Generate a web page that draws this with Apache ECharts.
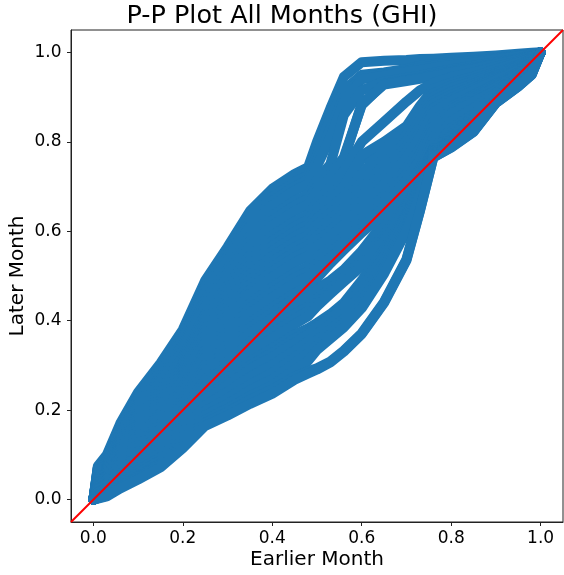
<!DOCTYPE html>
<html>
<head>
<meta charset="utf-8">
<script src="https://cdn.jsdelivr.net/npm/echarts@6/dist/echarts.min.js"></script>
<style>
  html, body { margin: 0; padding: 0; background: #ffffff; }
  #chart { width: 564px; height: 575px; }
</style>
</head>
<body>
<div id="chart"></div>
<script>
// Shared x positions (earlier-month cumulative probability) for every P-P curve
const xKnots = [0, 0.01, 0.03, 0.06, 0.1, 0.15, 0.2, 0.25, 0.3, 0.35, 0.4, 0.45, 0.48, 0.5, 0.53, 0.56, 0.6, 0.65, 0.7, 0.73, 0.76, 0.8, 0.85, 0.9, 0.95, 0.98, 1.0];

// Later-month cumulative probability for each month pair, top of the band to bottom
const curve01 = [0, 0.075, 0.10, 0.17, 0.24, 0.305, 0.38, 0.49, 0.565, 0.645, 0.695, 0.728, 0.743, 0.80, 0.875, 0.945, 0.978, 0.981, 0.983, 0.985, 0.986, 0.988, 0.99, 0.993, 0.997, 0.999, 1];
const curve02 = [0, 0.072, 0.096, 0.164, 0.232, 0.296, 0.369, 0.477, 0.550, 0.628, 0.677, 0.710, 0.725, 0.77, 0.855, 0.915, 0.95, 0.955, 0.963, 0.97, 0.974, 0.978, 0.982, 0.987, 0.993, 0.997, 1];
const curve03 = [0, 0.071, 0.095, 0.161, 0.228, 0.291, 0.364, 0.47, 0.543, 0.62, 0.668, 0.70, 0.716, 0.758, 0.83, 0.9, 0.945, 0.951, 0.959, 0.965, 0.97, 0.975, 0.98, 0.986, 0.992, 0.996, 1];
const curve04 = [0, 0.069, 0.093, 0.158, 0.224, 0.286, 0.359, 0.464, 0.535, 0.611, 0.658, 0.691, 0.706, 0.745, 0.81, 0.89, 0.94, 0.948, 0.956, 0.961, 0.966, 0.971, 0.977, 0.984, 0.991, 0.996, 1];
const curve05 = [0, 0.066, 0.088, 0.151, 0.215, 0.275, 0.346, 0.448, 0.516, 0.589, 0.635, 0.668, 0.683, 0.715, 0.75, 0.86, 0.915, 0.935, 0.943, 0.948, 0.954, 0.962, 0.97, 0.978, 0.987, 0.993, 1];
const curve06 = [0, 0.064, 0.086, 0.148, 0.21, 0.269, 0.339, 0.44, 0.507, 0.578, 0.624, 0.657, 0.672, 0.7, 0.728, 0.765, 0.882, 0.93, 0.938, 0.943, 0.95, 0.958, 0.966, 0.975, 0.985, 0.992, 1];
const curve07 = [0, 0.062, 0.083, 0.144, 0.205, 0.263, 0.332, 0.432, 0.497, 0.567, 0.613, 0.645, 0.660, 0.69, 0.72, 0.76, 0.885, 0.928, 0.936, 0.941, 0.947, 0.955, 0.963, 0.973, 0.984, 0.991, 1];
const curve08 = [0, 0.058, 0.079, 0.137, 0.195, 0.251, 0.319, 0.415, 0.478, 0.546, 0.590, 0.622, 0.637, 0.665, 0.70, 0.735, 0.80, 0.845, 0.89, 0.915, 0.932, 0.945, 0.955, 0.968, 0.98, 0.99, 1];
const curve09 = [0, 0.057, 0.077, 0.133, 0.19, 0.246, 0.312, 0.407, 0.468, 0.535, 0.578, 0.61, 0.625, 0.652, 0.68, 0.71, 0.76, 0.79, 0.828, 0.87, 0.905, 0.925, 0.943, 0.96, 0.976, 0.988, 1];
const curve10 = [0, 0.055, 0.074, 0.129, 0.185, 0.240, 0.306, 0.399, 0.459, 0.524, 0.567, 0.599, 0.614, 0.64, 0.67, 0.70, 0.77, 0.80, 0.835, 0.88, 0.918, 0.932, 0.946, 0.962, 0.977, 0.988, 1];
const curve11 = [0, 0.053, 0.071, 0.125, 0.18, 0.234, 0.30, 0.391, 0.45, 0.513, 0.556, 0.588, 0.603, 0.628, 0.652, 0.678, 0.728, 0.782, 0.83, 0.872, 0.908, 0.926, 0.94, 0.956, 0.972, 0.985, 1];
const curve12 = [0, 0.051, 0.069, 0.122, 0.176, 0.228, 0.293, 0.383, 0.441, 0.503, 0.544, 0.576, 0.591, 0.615, 0.64, 0.665, 0.71, 0.765, 0.815, 0.86, 0.90, 0.92, 0.935, 0.952, 0.97, 0.984, 1];
const curve13 = [0, 0.049, 0.067, 0.118, 0.171, 0.222, 0.286, 0.375, 0.432, 0.492, 0.532, 0.564, 0.579, 0.602, 0.628, 0.652, 0.695, 0.75, 0.802, 0.848, 0.892, 0.912, 0.93, 0.948, 0.968, 0.982, 1];
const curve14 = [0, 0.047, 0.065, 0.115, 0.166, 0.216, 0.279, 0.367, 0.422, 0.481, 0.521, 0.553, 0.568, 0.59, 0.615, 0.64, 0.68, 0.735, 0.79, 0.835, 0.885, 0.905, 0.925, 0.945, 0.965, 0.98, 1];
const curve15 = [0, 0.046, 0.062, 0.112, 0.161, 0.21, 0.272, 0.358, 0.412, 0.47, 0.51, 0.542, 0.556, 0.578, 0.602, 0.628, 0.668, 0.72, 0.778, 0.822, 0.875, 0.898, 0.92, 0.942, 0.962, 0.978, 1];
const curve16 = [0, 0.044, 0.060, 0.108, 0.156, 0.205, 0.266, 0.350, 0.403, 0.460, 0.498, 0.530, 0.545, 0.565, 0.59, 0.615, 0.655, 0.705, 0.765, 0.81, 0.865, 0.892, 0.915, 0.938, 0.96, 0.977, 1];
const curve17 = [0, 0.040, 0.055, 0.100, 0.146, 0.193, 0.253, 0.334, 0.384, 0.438, 0.475, 0.507, 0.522, 0.54, 0.565, 0.59, 0.63, 0.68, 0.74, 0.785, 0.845, 0.878, 0.905, 0.93, 0.955, 0.974, 1];
const curve18 = [0, 0.038, 0.053, 0.096, 0.142, 0.188, 0.246, 0.326, 0.374, 0.428, 0.464, 0.496, 0.51, 0.528, 0.552, 0.578, 0.618, 0.668, 0.728, 0.772, 0.835, 0.872, 0.9, 0.926, 0.952, 0.972, 1];
const curve19 = [0, 0.036, 0.051, 0.093, 0.137, 0.182, 0.240, 0.318, 0.365, 0.417, 0.452, 0.484, 0.499, 0.517, 0.542, 0.567, 0.607, 0.655, 0.715, 0.76, 0.825, 0.865, 0.895, 0.922, 0.95, 0.97, 1];
const curve20 = [0, 0.033, 0.046, 0.086, 0.127, 0.170, 0.226, 0.302, 0.346, 0.395, 0.429, 0.461, 0.476, 0.495, 0.528, 0.558, 0.597, 0.64, 0.695, 0.74, 0.81, 0.862, 0.89, 0.915, 0.945, 0.967, 1];
const curve21 = [0, 0.031, 0.044, 0.082, 0.122, 0.164, 0.22, 0.294, 0.336, 0.384, 0.418, 0.45, 0.465, 0.472, 0.49, 0.514, 0.556, 0.62, 0.685, 0.732, 0.797, 0.846, 0.876, 0.91, 0.942, 0.965, 1];
const curve22 = [0, 0.029, 0.041, 0.079, 0.117, 0.158, 0.213, 0.285, 0.327, 0.373, 0.406, 0.438, 0.453, 0.468, 0.487, 0.51, 0.55, 0.61, 0.675, 0.725, 0.785, 0.83, 0.862, 0.905, 0.94, 0.963, 1];
const curve23 = [0, 0.025, 0.037, 0.071, 0.107, 0.147, 0.200, 0.269, 0.309, 0.352, 0.384, 0.415, 0.432, 0.45, 0.472, 0.497, 0.535, 0.592, 0.66, 0.72, 0.785, 0.822, 0.855, 0.9, 0.935, 0.96, 1];
const curve24 = [0, 0.023, 0.035, 0.068, 0.102, 0.141, 0.194, 0.261, 0.30, 0.341, 0.372, 0.404, 0.422, 0.44, 0.464, 0.49, 0.527, 0.585, 0.655, 0.716, 0.783, 0.817, 0.85, 0.898, 0.934, 0.959, 1];
const curve25 = [0, 0.022, 0.032, 0.064, 0.098, 0.135, 0.187, 0.253, 0.290, 0.330, 0.361, 0.392, 0.41, 0.432, 0.46, 0.487, 0.522, 0.578, 0.65, 0.713, 0.782, 0.812, 0.845, 0.897, 0.932, 0.958, 1];
const curve26 = [0, 0.018, 0.027, 0.057, 0.088, 0.123, 0.173, 0.237, 0.271, 0.309, 0.338, 0.369, 0.383, 0.395, 0.415, 0.44, 0.49, 0.56, 0.64, 0.708, 0.78, 0.805, 0.838, 0.895, 0.93, 0.956, 1];
const curve27 = [0, 0.016, 0.026, 0.054, 0.084, 0.118, 0.168, 0.23, 0.264, 0.30, 0.328, 0.36, 0.376, 0.388, 0.408, 0.432, 0.478, 0.552, 0.636, 0.705, 0.779, 0.802, 0.835, 0.894, 0.93, 0.955, 1];
const curve28 = [0, 0.015, 0.024, 0.051, 0.080, 0.114, 0.163, 0.224, 0.256, 0.292, 0.319, 0.351, 0.37, 0.385, 0.405, 0.43, 0.472, 0.545, 0.632, 0.703, 0.778, 0.80, 0.833, 0.893, 0.93, 0.955, 1];
const curve29 = [0, 0.012, 0.020, 0.045, 0.072, 0.105, 0.152, 0.211, 0.241, 0.274, 0.301, 0.333, 0.354, 0.37, 0.392, 0.418, 0.458, 0.532, 0.622, 0.698, 0.775, 0.797, 0.83, 0.892, 0.928, 0.954, 1];
const curve30 = [0, 0.009, 0.016, 0.040, 0.065, 0.095, 0.142, 0.198, 0.226, 0.257, 0.283, 0.318, 0.34, 0.357, 0.38, 0.405, 0.445, 0.52, 0.613, 0.692, 0.772, 0.795, 0.828, 0.89, 0.927, 0.953, 1];
const curve31 = [0, 0.007, 0.014, 0.035, 0.059, 0.088, 0.134, 0.188, 0.214, 0.244, 0.269, 0.305, 0.327, 0.345, 0.37, 0.396, 0.436, 0.512, 0.607, 0.686, 0.77, 0.792, 0.826, 0.889, 0.926, 0.952, 1];
const curve32 = [0, 0.005, 0.011, 0.031, 0.053, 0.081, 0.126, 0.178, 0.203, 0.231, 0.255, 0.29, 0.31, 0.335, 0.36, 0.385, 0.428, 0.505, 0.60, 0.68, 0.768, 0.79, 0.824, 0.888, 0.925, 0.951, 1];
const curve33 = [0, 0.003, 0.009, 0.028, 0.049, 0.077, 0.120, 0.172, 0.196, 0.223, 0.246, 0.275, 0.287, 0.294, 0.309, 0.333, 0.372, 0.442, 0.537, 0.646, 0.765, 0.788, 0.823, 0.887, 0.924, 0.95, 1];
const curve34 = [0, 0.002, 0.007, 0.025, 0.045, 0.072, 0.115, 0.165, 0.188, 0.214, 0.237, 0.268, 0.282, 0.291, 0.307, 0.331, 0.37, 0.44, 0.535, 0.645, 0.765, 0.787, 0.822, 0.887, 0.924, 0.95, 1];

// Axis extent (also the ends of the y = x reference line) and tick positions
const axisRange = [-0.05, 1.05];
const tickValues = [0, 0.2, 0.4, 0.6, 0.8, 1.0];

const curves = [curve01, curve02, curve03, curve04, curve05, curve06, curve07, curve08,
  curve09, curve10, curve11, curve12, curve13, curve14, curve15, curve16,
  curve17, curve18, curve19, curve20, curve21, curve22, curve23, curve24,
  curve25, curve26, curve27, curve28, curve29, curve30, curve31, curve32,
  curve33, curve34];

const FONT = 'DejaVu Sans';

const ppSeries = curves.map((ys, i) => ({
  type: 'line',
  name: 'pair' + (i + 1),
  data: xKnots.map((x, j) => [x, ys[j]]),
  symbol: 'none',
  silent: true,
  z: 2,
  lineStyle: { color: '#1f77b4', width: 10, cap: 'round', join: 'round' }
}));

const diagonal = {
  type: 'line',
  name: 'y = x',
  data: [[axisRange[0], axisRange[0]], [axisRange[1], axisRange[1]]],
  symbol: 'none',
  silent: true,
  clip: true,
  z: 3,
  lineStyle: { color: '#ff0000', width: 2 }
};

function valueAxis(name, gap, labelMargin) {
  return {
    type: 'value',
    min: axisRange[0],
    max: axisRange[1],
    name: name,
    nameLocation: 'middle',
    nameGap: gap,
    nameMoveOverlap: false,
    nameTextStyle: { fontFamily: FONT, fontSize: 20, color: '#000000' },
    axisLine: { show: true, onZero: false, lineStyle: { color: '#222222', width: 1 } },
    axisTick: { show: true, length: 4, customValues: tickValues, lineStyle: { color: '#222222', width: 1 } },
    axisLabel: {
      customValues: tickValues,
      formatter: v => v.toFixed(1),
      fontFamily: FONT, fontSize: 17, color: '#000000', margin: labelMargin
    },
    splitLine: { show: false }
  };
}

const chart = echarts.init(document.getElementById('chart'), null, { renderer: 'canvas' });
chart.setOption({
  animation: false,
  backgroundColor: '#ffffff',
  title: {
    text: 'P-P Plot All Months (GHI)',
    left: 'center',
    top: 3,
    padding: 0,
    textStyle: { fontFamily: FONT, fontSize: 25.5, fontWeight: 'normal', color: '#000000' }
  },
  grid: {
    left: 71, top: 30, width: 492, height: 492,
    containLabel: false,
    outerBoundsMode: 'none',
    show: true, borderColor: '#222222', borderWidth: 1, backgroundColor: 'transparent'
  },
  xAxis: valueAxis('Earlier Month', 28, 8),
  yAxis: valueAxis('Later Month', 43, 9.5),
  series: ppSeries.concat([diagonal])
});
</script>
</body>
</html>
